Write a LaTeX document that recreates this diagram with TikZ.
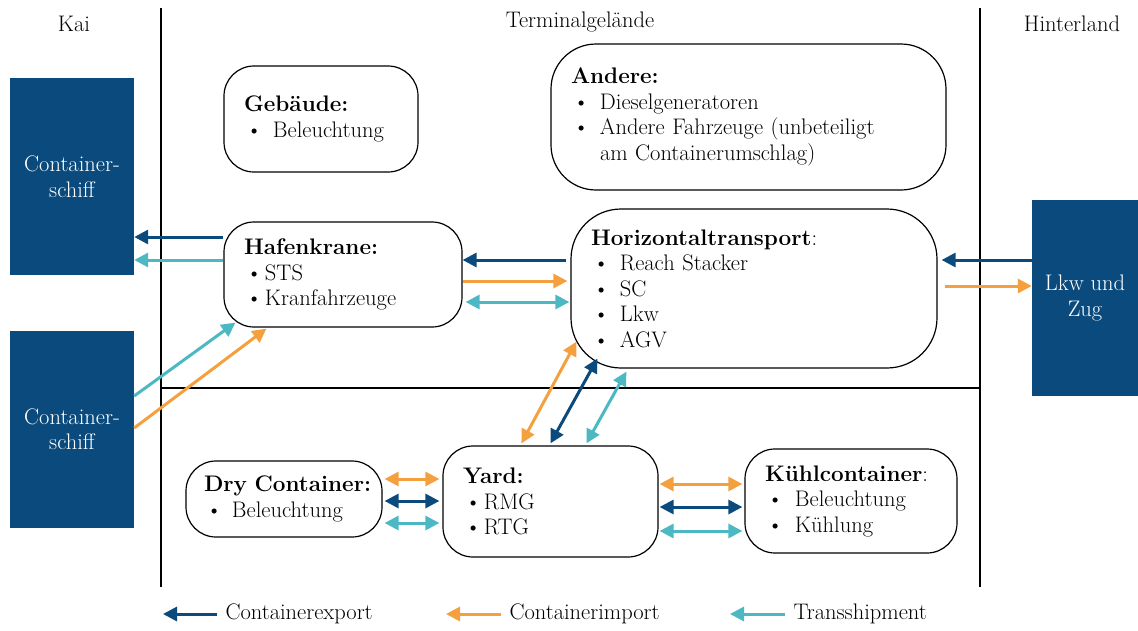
\documentclass[tikz,border=0pt]{standalone}
\usetikzlibrary{arrows.meta}

\definecolor{expblue}{HTML}{0B4A7C}
\definecolor{imporange}{HTML}{F5A03F}
\definecolor{transteal}{HTML}{4BB8C4}

% bullet line, #1 = indent of the text
\newcommand{\itm}[2][29pt]{\makebox[#1][l]{\hspace{2pt}\textbullet}#2}

\tikzset{
  txt/.style={font=\fontsize{22.5}{25.5}\selectfont},
  box/.style={txt, draw, line width=1.2pt, rounded corners=30pt, align=left, inner xsep=20pt, inner ysep=0pt},
  ship/.style={txt, fill=expblue, text=white, align=center, minimum width=124pt, minimum height=197pt, inner sep=0pt},
  divider/.style={line width=1.6pt},
  tipA/.style={-{Triangle[length=14pt,width=14pt]}},
  tipB/.style={{Triangle[length=14pt,width=14pt]}-{Triangle[length=14pt,width=14pt]}},
  flow/.style={line width=3pt},
  expo/.style={flow, expblue},
  impo/.style={flow, imporange},
  trans/.style={flow, transteal}
}

\begin{document}
\begin{tikzpicture}[x=1pt, y=-1pt]
  \useasboundingbox (0,0) rectangle (1138,630);

  % areas
  \coordinate (kaitop) at (161,8);
  \coordinate (kaibot) at (161,587);
  \coordinate (hintop) at (980,8);
  \coordinate (hinbot) at (980,587);
  \draw[divider] (kaitop) -- (kaibot);
  \draw[divider] (hintop) -- (hinbot);
  \draw[divider] (kaitop |- 0,388) -- (hintop |- 0,388);

  \node[txt] (kai) at (74,24) {Kai};
  \node[txt] (terminal) at (580,22) {Terminalgelände};
  \node[txt] (hinterland) at (1072,24) {Hinterland};

  % ships and hinterland
  \node[ship] (ship1) at (72,176.5) {Container-\\schiff};
  \node[ship] (ship2) at (72,429) {Container-\\schiff};
  \node[ship, minimum width=106pt, minimum height=196pt] (lkw) at (1085,298) {Lkw und\\Zug};

  % terminal boxes
  \node[box, text width=154pt, minimum height=106pt] (gebaeude) at (321,119) {%
    \textbf{Gebäude:}\\
    \itm{Beleuchtung}};
  \node[box, text width=355pt, minimum height=146pt, rounded corners=45pt] (andere) at (748.5,117) {%
    \textbf{Andere:}\\
    \itm{Dieselgeneratoren}\\
    \itm{Andere Fahrzeuge (unbeteiligt}\\
    \hspace*{29pt}am Containerumschlag)};
  \node[box, text width=198pt, minimum height=105pt] (hafen) at (343,274.5) {%
    \textbf{Hafenkrane:}\\
    \itm[21pt]{STS}\\
    \itm[21pt]{Kranfahrzeuge}};
  \node[box, text width=326pt, minimum height=159pt, rounded corners=50pt] (horiz) at (754,288.5) {%
    \textbf{Horizontaltransport}:\\
    \itm{Reach Stacker}\\
    \itm{SC}\\
    \itm{Lkw}\\
    \itm{AGV}};
  \node[box, text width=160pt, inner xsep=18pt, minimum height=76pt] (dry) at (284,499) {%
    \mbox{\textbf{Dry Container:}}\\
    \itm[28pt]{Beleuchtung}};
  \node[box, text width=175pt, minimum height=111pt] (yard) at (550.5,501.5) {%
    \textbf{Yard:}\\
    \itm[21pt]{RMG}\\
    \itm[21pt]{RTG}};
  \node[box, text width=172pt, minimum height=104pt] (kuehl) at (851,501) {%
    \textbf{Kühlcontainer}:\\
    \itm[30pt]{Beleuchtung}\\
    \itm[30pt]{Kühlung}};

  % Hafenkrane -> ship
  \draw[expo, tipA] ([yshift=37.5pt]hafen.west) coordinate (a1) -- (a1 -| ship1.east);
  \draw[trans, tipA] ([yshift=14.5pt]hafen.west) coordinate (a2) -- (a2 -| ship1.east);

  % ship -> Hafenkrane
  \draw[trans, tipA] ([yshift=33pt]ship2.east) -- ([xshift=12pt,yshift=5pt]hafen.south west);
  \draw[impo, tipA] ([yshift=1pt]ship2.east) -- ([xshift=43pt,yshift=-1pt]hafen.south west);

  % Horizontaltransport <-> Hafenkrane
  \draw[expo, tipA, shorten <=4pt] ([yshift=28.5pt]horiz.west) coordinate (b1) -- (b1 -| hafen.east);
  \draw[impo, tipA, shorten >=3pt] ([yshift=7.5pt]horiz.west -| hafen.east) -- ([yshift=7.5pt]horiz.west);
  \draw[trans, tipB, shorten >=3pt, shorten <=1pt] ([yshift=-13.5pt]horiz.west) coordinate (b3) -- (b3 -| hafen.east);

  % Lkw und Zug
  \draw[expo, tipA, shorten >=4pt] ([yshift=38pt]lkw.west) coordinate (c1) -- (c1 -| horiz.east);
  \draw[impo, tipA, shorten <=7pt] ([yshift=12pt]lkw.west -| horiz.east) -- ([yshift=12pt]lkw.west);

  % Yard <-> Horizontaltransport
  \draw[impo, tipB] ([xshift=79pt,yshift=2pt]yard.north west) -- ([xshift=6pt,yshift=27pt]horiz.south west);
  \draw[expo, tipB] ([xshift=108pt,yshift=2pt]yard.north west) -- ([xshift=27pt,yshift=10pt]horiz.south west);
  \draw[trans, tipB] ([xshift=144pt,yshift=2pt]yard.north west) -- ([xshift=56pt,yshift=-3pt]horiz.south west);

  % Dry Container <-> Yard
  \draw[impo, tipB, shorten <=3pt, shorten >=2pt] ([yshift=22.5pt]yard.west) coordinate (d1) -- (d1 -| dry.east);
  \draw[expo, tipB, shorten <=3pt, shorten >=2pt] ([yshift=0.5pt]yard.west) coordinate (d2) -- (d2 -| dry.east);
  \draw[trans, tipB, shorten <=3pt, shorten >=2pt] ([yshift=-21.5pt]yard.west) coordinate (d3) -- (d3 -| dry.east);

  % Yard <-> Kuehlcontainer
  \draw[impo, tipB, shorten <=2pt, shorten >=1pt] ([yshift=17pt]kuehl.west) coordinate (e1) -- (e1 -| yard.east);
  \draw[expo, tipB, shorten <=2pt, shorten >=1pt] ([yshift=-6pt]kuehl.west) coordinate (e2) -- (e2 -| yard.east);
  \draw[trans, tipB, shorten <=2pt, shorten >=1pt] ([yshift=-30pt]kuehl.west) coordinate (e3) -- (e3 -| yard.east);

  % legend
  \node[txt, anchor=west] (lgexp) at (222,614) {Containerexport};
  \node[txt, anchor=west] (lgimp) at (506,614) {Containerimport};
  \node[txt, anchor=west] (lgtrans) at (790,614) {Transshipment};
  \coordinate (lgexpend) at (163,614);
  \coordinate (lgimpend) at (446,614);
  \coordinate (lgtransend) at (730,614);
  \draw[expo, tipA, shorten <=5pt] (lgexp.west) -- (lgexpend);
  \draw[impo, tipA, shorten <=5pt] (lgimp.west) -- (lgimpend);
  \draw[trans, tipA, shorten <=5pt] (lgtrans.west) -- (lgtransend);
\end{tikzpicture}
\end{document}
